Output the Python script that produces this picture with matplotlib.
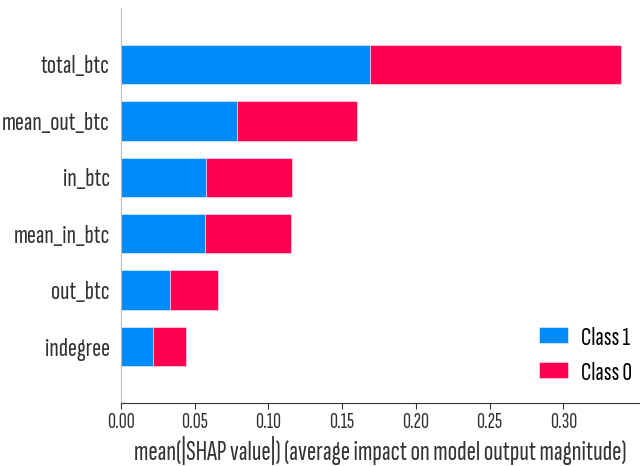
import matplotlib
matplotlib.use("Agg")
import matplotlib.pyplot as plt
import numpy as np

# mean(|SHAP|) per feature, top row first
features = ["total_btc", "mean_out_btc", "in_btc", "mean_in_btc", "out_btc", "indegree"]
class1 = [0.169, 0.079, 0.058, 0.057, 0.033, 0.022]
class0 = [0.170, 0.081, 0.058, 0.058, 0.033, 0.022]
xticks = [0.00, 0.05, 0.10, 0.15, 0.20, 0.25, 0.30]

BLUE = "#008bfb"
RED = "#ff0051"
TXT = "#333333"

# reference text is squeezed horizontally, so use a very narrow face
plt.rcParams["font.family"] = ["Sofia Sans Extra Condensed", "DejaVu Sans"]

fig = plt.figure(figsize=(6.4, 4.66), dpi=100)
ax = fig.add_axes([0.189, 0.135, 0.811, 0.848])

y = np.arange(len(features))[::-1]
edge = (1, 1, 1, 0.6)
ax.barh(y, class1, height=0.7, color=BLUE, edgecolor=edge, linewidth=0.6, label="Class 1")
ax.barh(y, class0, left=class1, height=0.7, color=RED, edgecolor=edge, linewidth=0.6,
        label="Class 0")

ax.set_yticks(y)
ax.set_yticklabels(features, fontsize=19.5, color=TXT)
ax.set_ylim(-1, len(features))
ax.set_xlim(0, 0.352)
ax.set_xticks(xticks)
ax.set_xticklabels([f"{t:.2f}" for t in xticks], fontsize=16, color=TXT)
ax.set_xlabel("mean(|SHAP value|) (average impact on model output magnitude)",
              fontsize=20.2, color=TXT, labelpad=3)

ax.tick_params(axis="y", length=0, pad=8)
ax.tick_params(axis="x", length=4, color=TXT, pad=3)
for s in ("top", "right"):
    ax.spines[s].set_visible(False)
ax.spines["left"].set_color("#bbbbbb")
ax.spines["bottom"].set_color(TXT)

ax.legend(loc="lower right", bbox_to_anchor=(1.02, 0.0), frameon=False, fontsize=19,
          handlelength=1.1, handleheight=0.55, handletextpad=0.5, labelspacing=0.45,
          borderaxespad=0.3)

fig.savefig("out.png", dpi=100, facecolor="white")
